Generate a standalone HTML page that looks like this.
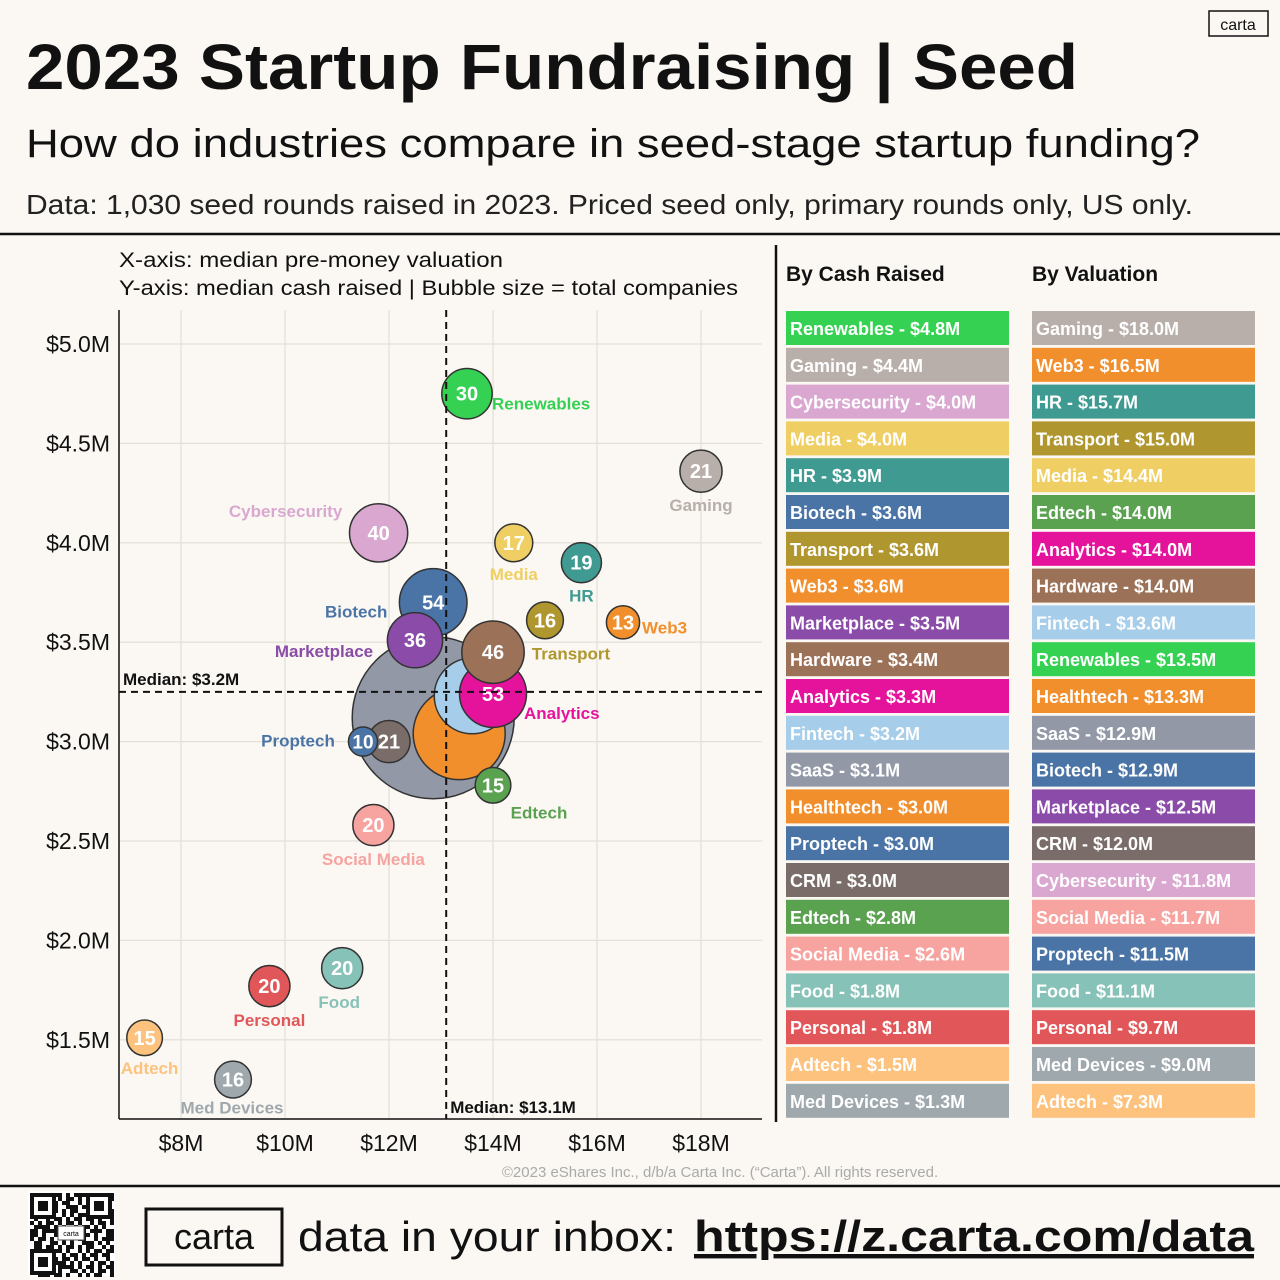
<!DOCTYPE html>
<html><head><meta charset="utf-8"><style>
body{margin:0;background:#fbf8f3;}
svg{display:block;font-family:"Liberation Sans",sans-serif;}
</style></head><body>
<svg id="s" width="1280" height="1280" viewBox="0 0 1280 1280">
<rect width="1280" height="1280" fill="#fbf8f3"/>
<text x="26" y="89" font-size="64" font-weight="bold" fill="#111" textLength="1052" lengthAdjust="spacingAndGlyphs">2023 Startup Fundraising | Seed</text>
<rect x="1209" y="11" width="59" height="25" fill="none" stroke="#111" stroke-width="1.5"/>
<text x="1238" y="30" font-size="16" text-anchor="middle" fill="#111">carta</text>
<text x="26" y="157" font-size="40" fill="#111" textLength="1174" lengthAdjust="spacingAndGlyphs">How do industries compare in seed-stage startup funding?</text>
<text x="26" y="214" font-size="28" fill="#222" textLength="1167" lengthAdjust="spacingAndGlyphs">Data: 1,030 seed rounds raised in 2023. Priced seed only, primary rounds only, US only.</text>
<line x1="0" y1="234" x2="1280" y2="234" stroke="#111" stroke-width="2.5"/>
<line x1="776" y1="245" x2="776" y2="1122" stroke="#111" stroke-width="2.5"/>
<text x="119" y="267" font-size="21" fill="#111" textLength="384" lengthAdjust="spacingAndGlyphs">X-axis: median pre-money valuation</text>
<text x="119" y="295" font-size="21" fill="#111" textLength="619" lengthAdjust="spacingAndGlyphs">Y-axis: median cash raised  |  Bubble size = total companies</text>
<g id="grid"></g>
<g id="bubbles"></g>
<g id="labels"></g>
<g id="legend"></g>
<text x="720" y="1177" font-size="15" fill="#aaa" text-anchor="middle">©2023 eShares Inc., d/b/a Carta Inc. (“Carta”). All rights reserved.</text>
<line x1="0" y1="1186" x2="1280" y2="1186" stroke="#111" stroke-width="2.5"/>
<g>
<rect x="28" y="1191" width="87" height="85" fill="#fff"/>
<g id="qr"></g>
<rect x="58" y="1226" width="26" height="14" fill="#fff" stroke="#555" stroke-width="1"/>
<text x="71" y="1236" font-size="7" text-anchor="middle">carta</text>
</g>
<rect x="146" y="1209" width="136" height="56" fill="none" stroke="#111" stroke-width="3"/>
<text x="214" y="1249" font-size="36" text-anchor="middle" fill="#111">carta</text>
<text x="298" y="1251" font-size="42" fill="#111" textLength="378" lengthAdjust="spacingAndGlyphs">data in your inbox:</text>
<text x="694" y="1251" font-size="44" font-weight="bold" fill="#111" text-decoration="underline" textLength="560" lengthAdjust="spacingAndGlyphs">https://z.carta.com/data</text>
</svg>
<script>
const NS="http://www.w3.org/2000/svg";
const names=["SaaS","Healthtech","Fintech","Analytics","Hardware","Biotech","Marketplace","CRM","Proptech","Renewables","Gaming","Cybersecurity","Media","HR","Transport","Web3","Edtech","Social Media","Food","Personal","Adtech","Med Devices"];
const valuation=[12.85,13.35,13.6,14.0,14.0,12.85,12.5,12.0,11.5,13.5,18.0,11.8,14.4,15.7,15.0,16.5,14.0,11.7,11.1,9.7,7.3,9.0];
const cash=[3.12,3.04,3.23,3.24,3.45,3.70,3.51,3.0,3.0,4.75,4.36,4.05,4.0,3.9,3.61,3.6,2.78,2.58,1.86,1.77,1.51,1.3];
const companies=[310,100,68,53,46,54,36,21,10,30,21,40,17,19,16,13,15,20,20,20,15,16];
const showCount=[false,false,false,true,true,true,true,true,true,true,true,true,true,true,true,true,true,true,true,true,true,true];
const colors={"SaaS":"#9298a6","Healthtech":"#f18f2c","Fintech":"#a6cde9","Analytics":"#e5139b","Hardware":"#9b7258","Biotech":"#4a74a6","Marketplace":"#8a4ca8","CRM":"#7a6d69","Proptech":"#4a74a6","Renewables":"#35d152","Gaming":"#b9afaa","Cybersecurity":"#d9a7d0","Media":"#efcf64","HR":"#3f9a92","Transport":"#b0962e","Web3":"#f18f2c","Edtech":"#5aa150","Social Media":"#f7a3a0","Food":"#86c2b7","Personal":"#e15759","Adtech":"#fcc27e","Med Devices":"#9fa8ad"};
const labelPos={"Renewables":[25,16,"start"],"Gaming":[0,40,"middle"],"Cybersecurity":[-93,-16,"middle"],"Media":[0,37,"middle"],"HR":[0,39,"middle"],"Biotech":[-77,15,"middle"],"Transport":[26,39,"middle"],"Web3":[19,11,"start"],"Marketplace":[-91,17,"middle"],"Analytics":[31,25,"start"],"Proptech":[-65,5,"middle"],"Edtech":[46,33,"middle"],"Social Media":[0,40,"middle"],"Food":[-3,40,"middle"],"Personal":[0,40,"middle"],"Adtech":[5,36,"middle"],"Med Devices":[-1,34,"middle"]};
const xTicks=[8,10,12,14,16,18];
const yTicks=[1.5,2.0,2.5,3.0,3.5,4.0,4.5,5.0];
const medianX=13.1, medianY=3.25;
const cashLegend=[["Renewables",4.8],["Gaming",4.4],["Cybersecurity",4.0],["Media",4.0],["HR",3.9],["Biotech",3.6],["Transport",3.6],["Web3",3.6],["Marketplace",3.5],["Hardware",3.4],["Analytics",3.3],["Fintech",3.2],["SaaS",3.1],["Healthtech",3.0],["Proptech",3.0],["CRM",3.0],["Edtech",2.8],["Social Media",2.6],["Food",1.8],["Personal",1.8],["Adtech",1.5],["Med Devices",1.3]];
const valLegend=[["Gaming",18.0],["Web3",16.5],["HR",15.7],["Transport",15.0],["Media",14.4],["Edtech",14.0],["Analytics",14.0],["Hardware",14.0],["Fintech",13.6],["Renewables",13.5],["Healthtech",13.3],["SaaS",12.9],["Biotech",12.9],["Marketplace",12.5],["CRM",12.0],["Cybersecurity",11.8],["Social Media",11.7],["Proptech",11.5],["Food",11.1],["Personal",9.7],["Med Devices",9.0],["Adtech",7.3]];

const X=v=>181+(v-8)*52, Y=v=>344+(5-v)*198.8, R=n=>4.6*Math.sqrt(n);
function el(t,a,p,txt){const e=document.createElementNS(NS,t);for(const k in a)e.setAttribute(k,a[k]);if(txt!=null)e.textContent=txt;p.appendChild(e);return e;}
const grid=document.getElementById('grid');
const PL=119,PR=762,PT=310,PB=1119;
xTicks.forEach(t=>{el('line',{x1:X(t),x2:X(t),y1:PT,y2:PB,stroke:'#e4e0da','stroke-width':1.3},grid);
 const tx=el('text',{x:X(t),y:1151,'font-size':23,'text-anchor':'middle',fill:'#111'},grid,'$'+t+'M');
 
 });
yTicks.forEach(t=>{el('line',{x1:PL,x2:PR,y1:Y(t),y2:Y(t),stroke:'#e4e0da','stroke-width':1.3},grid);
 const tx=el('text',{x:110,y:Y(t)+8,'font-size':23,'text-anchor':'end',fill:'#111'},grid,'$'+t.toFixed(1)+'M');
 
 });
el('line',{x1:PL,x2:PL,y1:PT,y2:PB,stroke:'#111','stroke-width':1.5},grid);
el('line',{x1:PL,x2:PR,y1:PB,y2:PB,stroke:'#111','stroke-width':1.5},grid);

const bg=document.getElementById('bubbles'), lg=document.getElementById('labels');
names.forEach((n,i)=>{
 const cx=X(valuation[i]), cy=Y(cash[i]), r=R(companies[i]);
 const c=el('circle',{cx:cx,cy:cy,r:r,fill:colors[n],stroke:'#333','stroke-width':1.5},bg);
 
 
 if(showCount[i]){const t=el('text',{x:cx,y:cy+7,'font-size':companies[i]<12?19:20,'font-weight':'bold','text-anchor':'middle',fill:'#fff'},bg,companies[i]);
  
  }
 const lp=labelPos[n];
 if(lp){const t=el('text',{x:cx+lp[0],y:cy+lp[1],'font-size':17,'font-weight':'bold','text-anchor':lp[2],fill:colors[n]},lg,n);
  
  }
});
el('line',{x1:X(medianX),x2:X(medianX),y1:PT,y2:PB,stroke:'#111','stroke-width':2,'stroke-dasharray':'7,5'},lg);
el('line',{x1:PL,x2:PR,y1:Y(medianY),y2:Y(medianY),stroke:'#111','stroke-width':2,'stroke-dasharray':'7,5'},lg);
const mx=el('text',{x:X(medianX)+4,y:1113,'font-size':17,'font-weight':'bold',fill:'#111'},lg,'Median: $'+medianX+'M');


const my=el('text',{x:123,y:Y(medianY)-7,'font-size':17,'font-weight':'bold',fill:'#111'},lg,'Median: $3.2M');


const leg=document.getElementById('legend');
function legend(list,x0,title){
 const h=el('text',{x:x0,y:281,'font-size':21,'font-weight':'bold',fill:'#111'},leg,title);
 
 
 list.forEach((d,i)=>{const y=311+i*36.8;
  const r=el('rect',{x:x0,y:y,width:223,height:34,fill:colors[d[0]]},leg);
  
  
  el('text',{x:x0+4,y:y+24,'font-size':18,'font-weight':'bold',fill:'#fff'},leg,d[0]+' - $'+d[1].toFixed(1)+'M');});
}
legend(cashLegend,786,'By Cash Raised');
legend(valLegend,1032,'By Valuation');
const qr=document.getElementById('qr');
const qrBits="1110101101011101111010011010101101001110110100101011001011101100110101001110101001101101011010110010101111011010010101101100110100101101011011010011010110101101001011010111101010010110101001101";
for(let r=0;r<21;r++)for(let c=0;c<21;c++){if(qrBits[(r*21+c)%qrBits.length]==='1')el('rect',{x:30+c*4,y:1193+r*4,width:4,height:4,fill:'#111'},qr);}
[[30,1193],[86,1193],[30,1249]].forEach(p=>{el('rect',{x:p[0],y:p[1],width:26,height:26,fill:'#fff'},qr);el('rect',{x:p[0]+2,y:p[1]+2,width:22,height:22,fill:'none',stroke:'#111','stroke-width':4},qr);el('rect',{x:p[0]+8,y:p[1]+8,width:10,height:10,fill:'#111'},qr);});
</script>
</body></html>
